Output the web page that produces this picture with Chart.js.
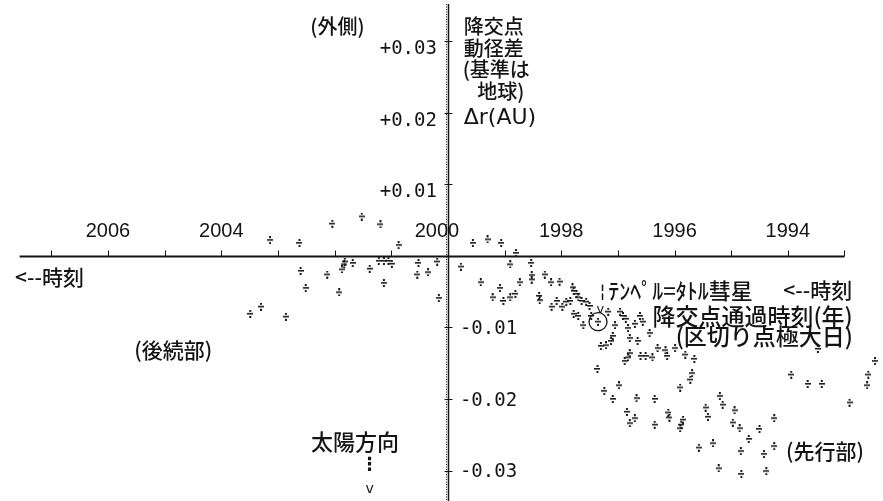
<!DOCTYPE html>
<html lang="ja">
<head>
<meta charset="utf-8">
<title>テンペル・タトル彗星 降交点動径差</title>
<script src="https://cdn.jsdelivr.net/npm/chart.js@4.4.1/dist/chart.umd.min.js"></script>
<style>
  html, body { margin: 0; padding: 0; background: #ffffff; }
  #chartBox { position: relative; width: 883px; height: 501px; }
</style>
</head>
<body>
<div id="chartBox"><canvas id="nodeChart"></canvas></div>
<script>
/* ============================================
   DATA
   ============================================ */

// 後続部: 2000年以降に降交点を通過する粒子 (年, Δr AU)
const trailingYears = [
  2003.14, 2002.62, 2002.04, 2001.52, 2001.19, 2000.87, 2002.60, 2002.51,
  2002.13, 2001.92, 2001.87, 2001.83, 2001.82, 2001.68, 2001.38, 2001.22,
  2001.13, 2001.05, 2000.99, 2001.13, 2000.52, 2000.54, 2000.35, 2000.19,
  2000.16, 2003.30, 2003.49, 2002.86
];
const trailingDr = [
  0.0022, 0.0018, 0.0045, 0.0055, 0.0044, 0.0015, -0.0021, -0.0045,
  -0.0026, -0.0051, -0.0019, -0.0012, -0.0008, -0.0010, -0.0018, -0.0007,
  -0.0007, -0.0007, -0.0011, -0.0038, -0.0010, -0.0026, -0.0023, -0.0008,
  -0.0059, -0.0071, -0.0081, -0.0085
];

// 先行部: 2000年より前に通過する粒子
const leadingYears = [
  1999.56, 1999.30, 1999.06, 1998.80, 1999.77, 1998.90, 1998.53, 1999.42,
  1999.08, 1999.21, 1999.02, 1998.90, 1998.81, 1998.73, 1998.52, 1998.52,
  1998.29, 1998.18, 1998.03, 1998.39, 1998.38, 1998.17, 1998.08, 1997.98,
  1997.91, 1997.80, 1997.78, 1997.73, 1997.70, 1997.84, 1997.64, 1997.56,
  1997.50, 1997.78, 1997.70, 1997.61, 1997.47, 1997.35, 1997.17, 1997.05,
  1996.96, 1996.91, 1996.86, 1996.82, 1996.70, 1996.61, 1996.56, 1996.44,
  1996.79, 1996.65, 1997.09, 1997.12, 1997.21, 1997.30, 1996.30, 1996.16,
  1996.13, 1995.99, 1995.81, 1995.65, 1996.79, 1996.82, 1996.88, 1996.60,
  1996.51, 1996.39, 1997.36, 1995.69, 1995.72, 1995.90, 1997.24, 1997.09,
  1996.98, 1996.67, 1996.35, 1996.84, 1996.79, 1996.70, 1996.35, 1996.11,
  1996.09, 1995.85, 1995.88, 1995.90, 1995.45, 1995.41, 1995.20, 1995.15,
  1994.94, 1994.97, 1994.85, 1994.69, 1994.83, 1994.50, 1994.24, 1995.57,
  1995.32, 1994.42, 1994.24, 1995.22, 1994.82, 1994.38, 1993.94, 1993.65,
  1993.40, 1992.91, 1992.60, 1992.58, 1992.46, 1993.47
];
const leadingDr = [
  0.0018, 0.0023, 0.0018, 0.0004, -0.0015, -0.0012, -0.0010, -0.0037,
  -0.0045, -0.0058, -0.0063, -0.0058, -0.0053, -0.0037, -0.0027, -0.0033,
  -0.0026, -0.0037, -0.0036, -0.0056, -0.0062, -0.0071, -0.0063, -0.0071,
  -0.0064, -0.0044, -0.0049, -0.0053, -0.0058, -0.0063, -0.0063, -0.0064,
  -0.0070, -0.0081, -0.0084, -0.0097, -0.0084, -0.0092, -0.0078, -0.0097,
  -0.0078, -0.0084, -0.0088, -0.0101, -0.0095, -0.0084, -0.0092, -0.0108,
  -0.0115, -0.0119, -0.0112, -0.0119, -0.0125, -0.0126, -0.0129, -0.0132,
  -0.0140, -0.0129, -0.0138, -0.0144, -0.0136, -0.0142, -0.0147, -0.0140,
  -0.0140, -0.0142, -0.0158, -0.0164, -0.0173, -0.0184, -0.0189, -0.0200,
  -0.0181, -0.0199, -0.0200, -0.0218, -0.0234, -0.0227, -0.0236, -0.0219,
  -0.0226, -0.0229, -0.0236, -0.0241, -0.0212, -0.0225, -0.0196, -0.0208,
  -0.0216, -0.0233, -0.0241, -0.0256, -0.0273, -0.0242, -0.0227, -0.0268,
  -0.0262, -0.0277, -0.0266, -0.0297, -0.0305, -0.0301, -0.0166, -0.0179,
  -0.0179, -0.0205, -0.0181, -0.0166, -0.0147, -0.0130
];

// 丸で囲んだ粒子 (地球通過時)
const markedYear = 1997.35;
const markedDr = -0.0092;

// 目盛
const yearTicks = [2007, 2006, 2005, 2004, 2003, 2002, 2001, 2000, 1999, 1998, 1997, 1996, 1995, 1994, 1993];
const yearLabels = [2006, 2004, 2000, 1998, 1996, 1994];
const drTicks = [0.03, 0.02, 0.01, -0.01, -0.02, -0.03];
const drLabels = ['+0.03', '+0.02', '+0.01', '-0.01', '-0.02', '-0.03'];

/* ============================================
   STYLE
   ============================================ */
const INK = '#141414';
const JP = '"Noto Sans CJK JP", "Noto Sans", sans-serif';

// 図中の説明文 (位置は年・Δrで指定)
const notes = [
  { text: '(外側)',      year: 2001.95, dr: 0.0321,  font: '500 20px ' + JP, align: 'center' },
  { text: '降交点',      year: 1999.72, dr: 0.0321,  font: '500 20px ' + JP, align: 'left' },
  { text: '動径差',      year: 1999.72, dr: 0.0290,  font: '500 20px ' + JP, align: 'left' },
  { text: '(基準は',     year: 1999.74, dr: 0.0260,  font: '500 20px ' + JP, align: 'left' },
  { text: '地球)',       year: 1999.48, dr: 0.0230,  font: '500 20px ' + JP, align: 'left' },
  { text: 'Δr(AU)',      year: 1999.72, dr: 0.0192,  font: '22px "DejaVu Sans"', align: 'left' },
  { text: '<--時刻',     year: 2007.64, dr: -0.0030, font: '500 21px ' + JP, align: 'left' },
  { text: '(後続部)',    year: 2004.85, dr: -0.0132, font: '500 21px ' + JP, align: 'center' },
  { text: '太陽方向',    year: 2001.64, dr: -0.0260, font: '500 22px ' + JP, align: 'center' },
  { text: '⋮',           year: 2001.38, dr: -0.0293, font: 'bold 18px "DejaVu Sans"', align: 'center' },
  { text: 'v',           year: 2001.38, dr: -0.0326, font: '14px "DejaVu Sans"', align: 'center' },
  { text: '¦',           year: 1997.27, dr: -0.0051, font: '18px "DejaVu Sans"', align: 'center' },
  { text: 'ﾃﾝﾍﾟﾙ=ﾀﾄﾙ彗星', year: 1997.17, dr: -0.0049, font: '500 22px ' + JP, align: 'left' },
  { text: '<--時刻',     year: 1994.08, dr: -0.0047, font: '500 21px ' + JP, align: 'left' },
  { text: '降交点通過時刻(年)', year: 1996.39, dr: -0.0084, font: '500 23px ' + JP, align: 'left' },
  { text: '(区切り点極大日)',   year: 1995.98, dr: -0.0112, font: '500 23px ' + JP, align: 'left' },
  { text: '(先行部)',    year: 1994.03, dr: -0.0273, font: '500 21px ' + JP, align: 'left' },
  { text: 'v',           year: 1997.31, dr: -0.0075, font: '13px "DejaVu Sans"', align: 'center' }
];

/* ============================================
   POINT GLYPH ( ÷ )
   ============================================ */
function makeGlyph() {
  const c = document.createElement('canvas');
  c.width = 6;
  c.height = 8;
  const g = c.getContext('2d');
  g.fillStyle = '#1c1c1c';
  g.fillRect(2, 0, 2, 2);   // upper dot
  g.fillRect(0, 3, 6, 1.6); // bar
  g.fillRect(2, 6, 2, 2);   // lower dot
  return c;
}

/* ============================================
   AXES PLUGIN - cross axes through (2000, 0)
   ============================================ */
const crossAxes = {
  id: 'crossAxes',
  beforeDatasetsDraw(chart) {
    const { ctx, scales: { x, y } } = chart;
    const x0 = Math.round(x.getPixelForValue(2000)) + 0.5;
    const y0 = Math.round(y.getPixelForValue(0)) + 0.5;
    ctx.save();
    ctx.strokeStyle = INK;

    // time axis
    ctx.lineWidth = 2;
    ctx.beginPath();
    ctx.moveTo(x.getPixelForValue(2007.56), y0);
    ctx.lineTo(x.getPixelForValue(1993), y0);
    ctx.stroke();

    ctx.lineWidth = 1;
    ctx.beginPath();
    yearTicks.forEach(yr => {
      const px = Math.round(x.getPixelForValue(yr)) + 0.5;
      ctx.moveTo(px, y0);
      ctx.lineTo(px, y0 - 6);
    });
    ctx.stroke();

    // Δr axis, ruler style
    ctx.lineWidth = 1.5;
    ctx.beginPath();
    ctx.moveTo(x0, 4);
    ctx.lineTo(x0, chart.height);
    ctx.stroke();
    ctx.lineWidth = 1;
    ctx.setLineDash([1, 1.5]);
    ctx.beginPath();
    ctx.moveTo(x0 - 2, 4);
    ctx.lineTo(x0 - 2, chart.height);
    ctx.stroke();
    ctx.setLineDash([]);
    ctx.beginPath();
    drTicks.forEach(v => {
      const py = Math.round(y.getPixelForValue(v)) + 0.5;
      ctx.moveTo(x0 - 4, py);
      ctx.lineTo(x0 + 4, py);
    });
    ctx.stroke();

    // marked particle
    const mx = x.getPixelForValue(markedYear);
    const my = y.getPixelForValue(markedDr);
    ctx.lineWidth = 1.3;
    ctx.beginPath();
    ctx.arc(mx, my, 9, 0, Math.PI * 2);
    ctx.stroke();
    ctx.restore();
  },
  afterDatasetsDraw(chart) {
    const { ctx, scales: { x, y } } = chart;
    const x0 = x.getPixelForValue(2000);
    const y0 = y.getPixelForValue(0);
    ctx.save();
    ctx.fillStyle = INK;
    ctx.textBaseline = 'middle';

    // year labels above the axis
    ctx.font = '20px "Liberation Sans", Arial, sans-serif';
    ctx.textAlign = 'center';
    yearLabels.forEach(yr => {
      const shift = yr === 2000 ? -11 : 0;
      ctx.fillText(String(yr), x.getPixelForValue(yr) + shift, y0 - 24);
    });

    // Δr labels: positive on the left, negative on the right
    ctx.font = '19px "DejaVu Sans Mono", monospace';
    drTicks.forEach((v, i) => {
      const py = y.getPixelForValue(v);
      if (v > 0) {
        ctx.textAlign = 'right';
        ctx.fillText(drLabels[i], x0 - 11, py + 8);
      } else {
        ctx.textAlign = 'left';
        ctx.fillText(drLabels[i], x0 + 12, py + 2);
      }
    });

    notes.forEach(n => {
      ctx.font = n.font;
      ctx.textAlign = n.align;
      ctx.fillText(n.text, x.getPixelForValue(n.year), y.getPixelForValue(n.dr));
    });
    ctx.restore();
  }
};

/* ============================================
   INITIALIZE CHART
   ============================================ */
let nodeChartInstance = null;

document.addEventListener('DOMContentLoaded', function() {
  const glyph = makeGlyph();
  const ctx = document.getElementById('nodeChart').getContext('2d');

  const toPoints = (xs, ys) => xs.map((v, i) => ({ x: v, y: ys[i] }));

  nodeChartInstance = new Chart(ctx, {
    type: 'scatter',
    data: {
      datasets: [
        { label: '後続部', data: toPoints(trailingYears, trailingDr), pointStyle: glyph, clip: false },
        { label: '先行部', data: toPoints(leadingYears, leadingDr), pointStyle: glyph, clip: false }
      ]
    },
    options: {
      responsive: true,
      maintainAspectRatio: false,
      animation: false,
      events: [],
      layout: { padding: 0 },
      plugins: {
        legend: { display: false },
        tooltip: { enabled: false }
      },
      scales: {
        x: { type: 'linear', min: 1992.408, max: 2007.818, reverse: true, display: false },
        y: { type: 'linear', min: -0.03356, max: 0.03507, display: false }
      }
    },
    plugins: [crossAxes]
  });
});
</script>
</body>
</html>
